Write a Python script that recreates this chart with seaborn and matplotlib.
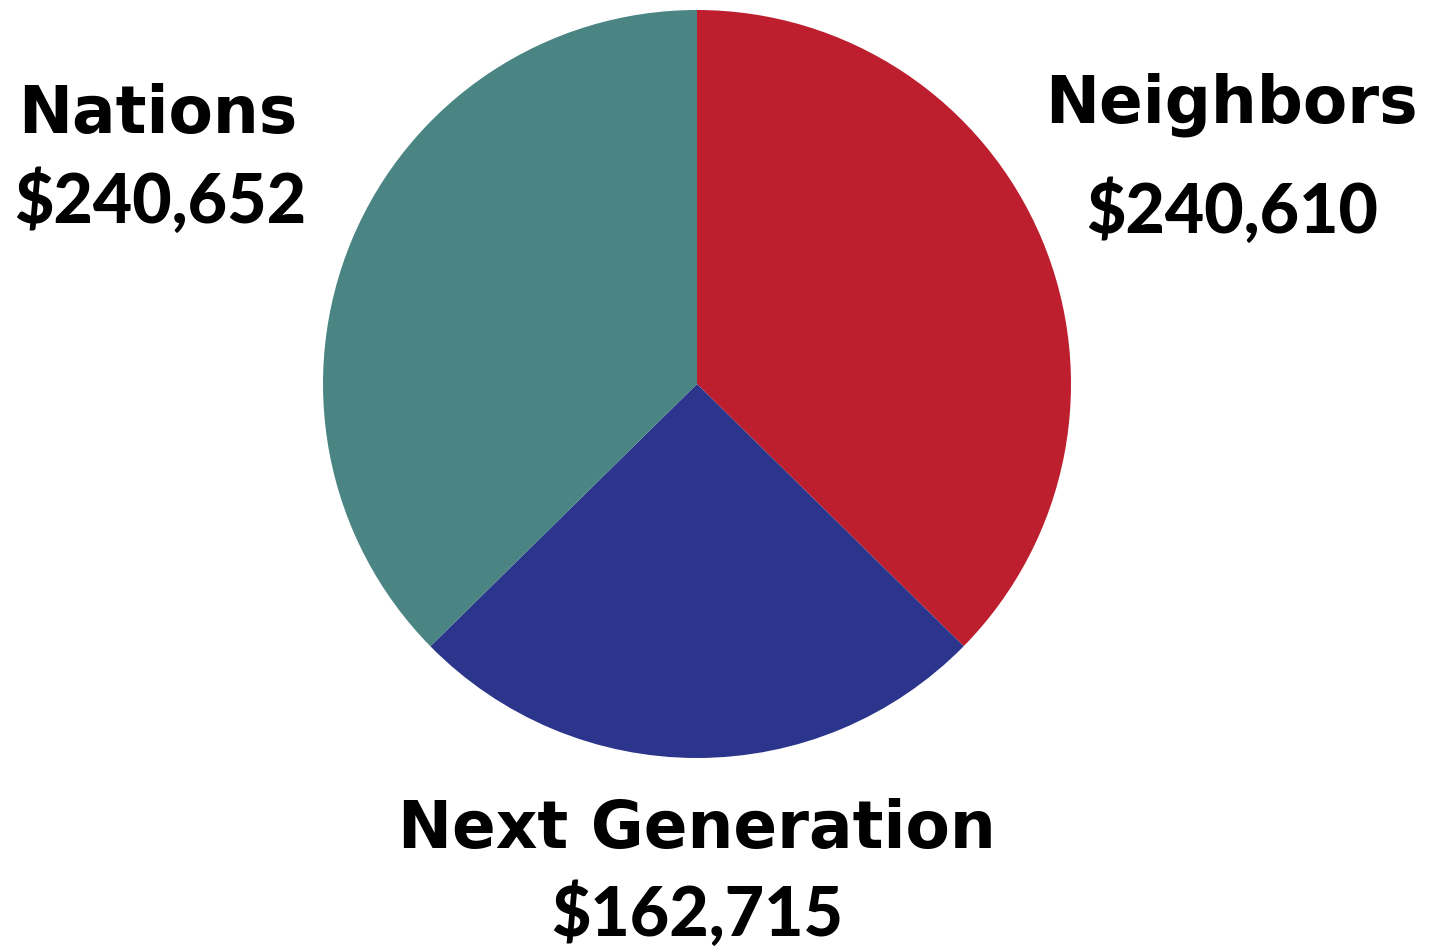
import matplotlib
matplotlib.use("Agg")
import matplotlib.pyplot as plt
import seaborn as sns

categories = ["Neighbors", "Next Generation", "Nations"]
values = [240610, 162715, 240652]
colors = ["#BD1F2E", "#2B358B", "#4A8584"]

sns.set_theme(style="white")
plt.rcParams['font.family'] = ['Lato', 'DejaVu Sans']

W, H = 1430, 951
fig = plt.figure(figsize=(W / 100, H / 100), dpi=100)
fig.patch.set_facecolor("white")

cx, cy, r = 697, 384, 374
ax = fig.add_axes([(cx - r) / W, 1 - (cy + r) / H, 2 * r / W, 2 * r / H])
ax.pie(values, colors=colors, startangle=90, counterclock=False, radius=1,
       wedgeprops=dict(linewidth=0))
ax.set_xlim(-1, 1)
ax.set_ylim(-1, 1)
ax.set_aspect("equal")
ax.axis("off")

# label placement (pixel centres): name, value
label_pos = {
    "Neighbors": ((1231, 105), (1232, 212)),
    "Next Generation": ((697, 830), (697, 915)),
    "Nations": ((158, 115), (160, 202)),
}
for cat, val in zip(categories, values):
    (nx, ny), (vx, vy) = label_pos[cat]
    fig.text(nx / W, 1 - ny / H, cat, ha="center", va="center",
             fontsize=46.5, fontweight="bold", color="black",
             family=["DejaVu Sans"])
    fig.text(vx / W, 1 - vy / H, f"${val:,}", ha="center", va="center",
             fontsize=49, fontweight="black", color="black")

fig.savefig("out.png", dpi=100, facecolor="white")
